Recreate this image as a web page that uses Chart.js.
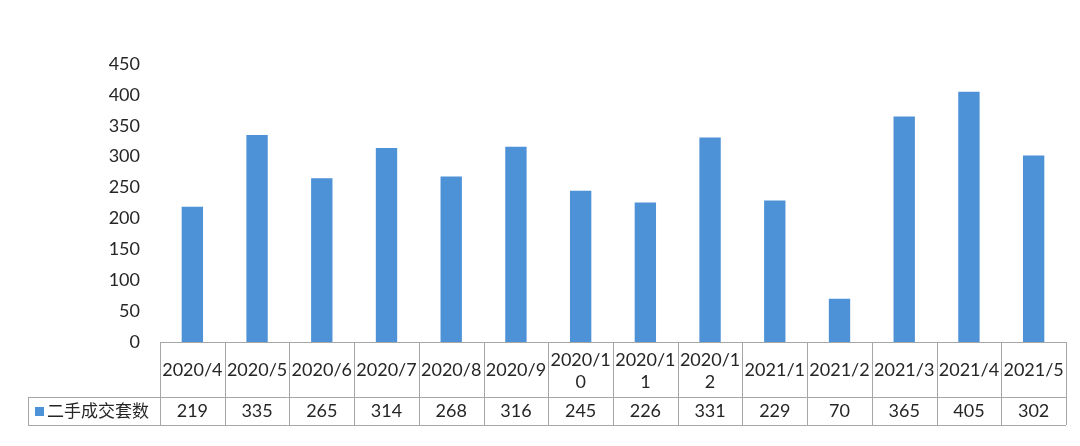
<!DOCTYPE html>
<html>
<head>
<meta charset="utf-8">
<script src="https://cdn.jsdelivr.net/npm/chart.js@4"></script>
<style>
  html, body { margin: 0; padding: 0; background: #fff; }
  #wrap { width: 1080px; height: 446px; }
</style>
</head>
<body>
<div id="wrap"><canvas id="bars"></canvas></div>
<script>
// months, shown in the table under the bars (some wrap on two lines)
var months = ['2020/4', '2020/5', '2020/6', '2020/7', '2020/8', '2020/9', '2020/10', '2020/11', '2020/12', '2021/1', '2021/2', '2021/3', '2021/4', '2021/5'];
var monthLines = [['2020/4'], ['2020/5'], ['2020/6'], ['2020/7'], ['2020/8'], ['2020/9'], ['2020/1', '0'], ['2020/1', '1'], ['2020/1', '2'], ['2021/1'], ['2021/2'], ['2021/3'], ['2021/4'], ['2021/5']];
var seriesName = '二手成交套数';
var sales = [219, 335, 265, 314, 268, 316, 245, 226, 331, 229, 70, 365, 405, 302];
var yTicks = [0, 50, 100, 150, 200, 250, 300, 350, 400, 450];

var barColor = '#4d91d6';
var lineColor = '#a6a6a6';
var textColor = '#262626';
var latin = 'Lato, "Noto Sans", sans-serif';
var cjk = '"Noto Sans CJK SC", sans-serif';

// data table drawn under the plot, columns follow the x scale
var tablePlugin = {
	id: 'dataTable',
	afterDraw: function (chart) {
		var ctx = chart.ctx;
		var x = chart.scales.x;
		var area = chart.chartArea;
		var top = area.bottom;
		var mid = top + 55;
		var bottom = top + 83;
		var legendLeft = 28;
		var n = months.length;
		var half = (x.getPixelForValue(1) - x.getPixelForValue(0)) / 2;
		var first = x.getPixelForValue(0) - half;
		var last = x.getPixelForValue(n - 1) + half;

		ctx.save();
		ctx.strokeStyle = lineColor;
		ctx.lineWidth = 1;
		ctx.beginPath();
		// horizontal rules
		ctx.moveTo(first, top + 0.5); ctx.lineTo(last, top + 0.5);
		ctx.moveTo(legendLeft, mid + 0.5); ctx.lineTo(last, mid + 0.5);
		ctx.moveTo(legendLeft, bottom + 0.5); ctx.lineTo(last, bottom + 0.5);
		// legend cell left edge
		ctx.moveTo(legendLeft + 0.5, mid); ctx.lineTo(legendLeft + 0.5, bottom);
		// column borders
		for (var i = 0; i <= n; i++) {
			var bx = Math.round(first + i * half * 2) + 0.5;
			ctx.moveTo(bx, top); ctx.lineTo(bx, bottom);
		}
		ctx.stroke();

		ctx.fillStyle = textColor;
		ctx.textAlign = 'center';
		ctx.textBaseline = 'middle';
		ctx.font = '18px ' + latin;
		for (var j = 0; j < n; j++) {
			var cx = x.getPixelForValue(j);
			var lines = monthLines[j];
			if (lines.length === 1) {
				ctx.fillText(lines[0], cx, top + 28);
			} else {
				ctx.fillText(lines[0], cx, top + 18);
				ctx.fillText(lines[1], cx, top + 40);
			}
			ctx.fillText(String(sales[j]), cx, mid + 14);
		}

		// legend key + series name
		ctx.fillStyle = barColor;
		ctx.fillRect(35, mid + 10, 9, 9);
		ctx.fillStyle = textColor;
		ctx.textAlign = 'left';
		ctx.font = '17px ' + cjk;
		ctx.fillText(seriesName, 47, mid + 14);
		ctx.restore();
	}
};

new Chart(document.getElementById('bars'), {
	type: 'bar',
	data: {
		labels: months,
		datasets: [
			{
				label: seriesName,
				data: sales,
				backgroundColor: barColor,
				borderWidth: 0,
				categoryPercentage: 1,
				barPercentage: 0.33
			}
		]
	},
	options: {
		responsive: true,
		maintainAspectRatio: false,
		animation: false,
		layout: { padding: { top: 64, right: 14, bottom: 104, left: 0 } },
		plugins: {
			legend: { display: false },
			tooltip: { enabled: false }
		},
		scales: {
			x: { display: false, offset: true },
			y: {
				min: 0,
				max: 450,
				afterFit: function (s) { s.width = 160; },
				afterBuildTicks: function (s) {
					s.ticks = yTicks.map(function (v) { return { value: v }; });
				},
				border: { display: false },
				grid: { display: false },
				ticks: {
					color: textColor,
					padding: 12,
					font: { family: latin, size: 18 }
				}
			}
		}
	},
	plugins: [tablePlugin]
});
</script>
</body>
</html>
